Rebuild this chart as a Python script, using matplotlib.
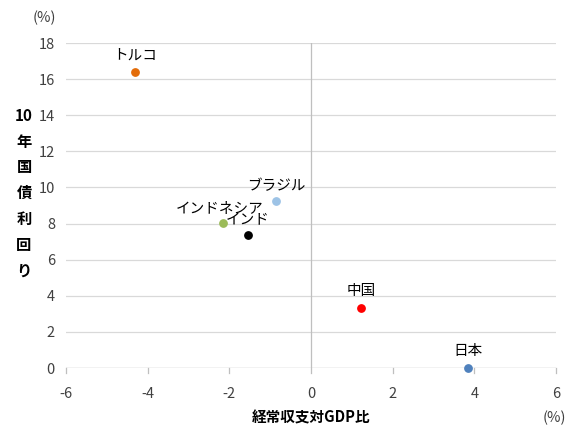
import matplotlib
matplotlib.use("Agg")
import matplotlib.pyplot as plt

plt.rcParams['font.family'] = ['Noto Sans CJK JP', 'DejaVu Sans']
plt.rcParams['axes.unicode_minus'] = False

# data
countries = ["トルコ", "ブラジル", "インドネシア", "インド", "中国", "日本"]
current_account = [-4.3, -0.85, -2.15, -1.55, 1.22, 3.85]
bond_yield = [16.4, 9.25, 8.03, 7.35, 3.33, 0.0]
colors = ["#E36C09", "#9DC3E6", "#9BBB59", "#000000", "#FF0000", "#4F81BD"]
# label offsets (points)
offsets = [(0, 7), (0, 6), (29, 6), (0, 6), (0, 7), (0, 7)]
label_ha = ["center", "center", "right", "center", "center", "center"]

x_ticks = [-6, -4, -2, 0, 2, 4, 6]
y_ticks = [0, 2, 4, 6, 8, 10, 12, 14, 16, 18]

fig = plt.figure(figsize=(5.68, 4.30), dpi=100)
ax = fig.add_axes([66 / 568, 1 - 368 / 430, 490 / 568, 325 / 430])

for i in range(len(countries)):
    ax.scatter(current_account[i], bond_yield[i], s=28, color=colors[i], zorder=3,
               clip_on=False)
    ax.annotate(countries[i], (current_account[i], bond_yield[i]),
                xytext=offsets[i], textcoords="offset points",
                ha=label_ha[i], va="bottom", fontsize=10.5)

ax.set_xlim(-6, 6)
ax.set_ylim(0, 18)
ax.set_xticks(x_ticks)
ax.set_yticks(y_ticks)
ax.tick_params(axis="both", labelsize=10.5, colors="#404040", length=0, pad=8)
ax.tick_params(axis="x", pad=14)
ax.grid(axis="y", color="#D9D9D9", linewidth=0.9)
ax.set_axisbelow(True)
for s in ax.spines.values():
    s.set_visible(False)

# axis lines crossing at origin
ax.axvline(0, color="#BFBFBF", linewidth=0.9, zorder=1)
ax.axhline(0, color="#BFBFBF", linewidth=0.9, zorder=1)
for t in x_ticks:
    ax.plot([t, t], [0, -0.25], color="#BFBFBF", linewidth=0.9, clip_on=False)

fig.text(24 / 568, 1 - 193 / 430, "\n".join(["10", "年", "国", "債", "利", "回", "り"]),
         ha="center", va="center", fontsize=11, fontweight="bold", linespacing=1.75)
fig.text(44 / 568, 1 - 18 / 430, "(%)", ha="center", va="center", fontsize=10.5,
         color="#404040")
fig.text(311 / 568, 1 - 417 / 430, "経常収支対GDP比", ha="center", va="center",
         fontsize=10.5, fontweight="bold")
fig.text(566 / 568, 1 - 418 / 430, "(%)", ha="right", va="center", fontsize=10.5,
         color="#404040")

fig.savefig("out.png", dpi=100)
